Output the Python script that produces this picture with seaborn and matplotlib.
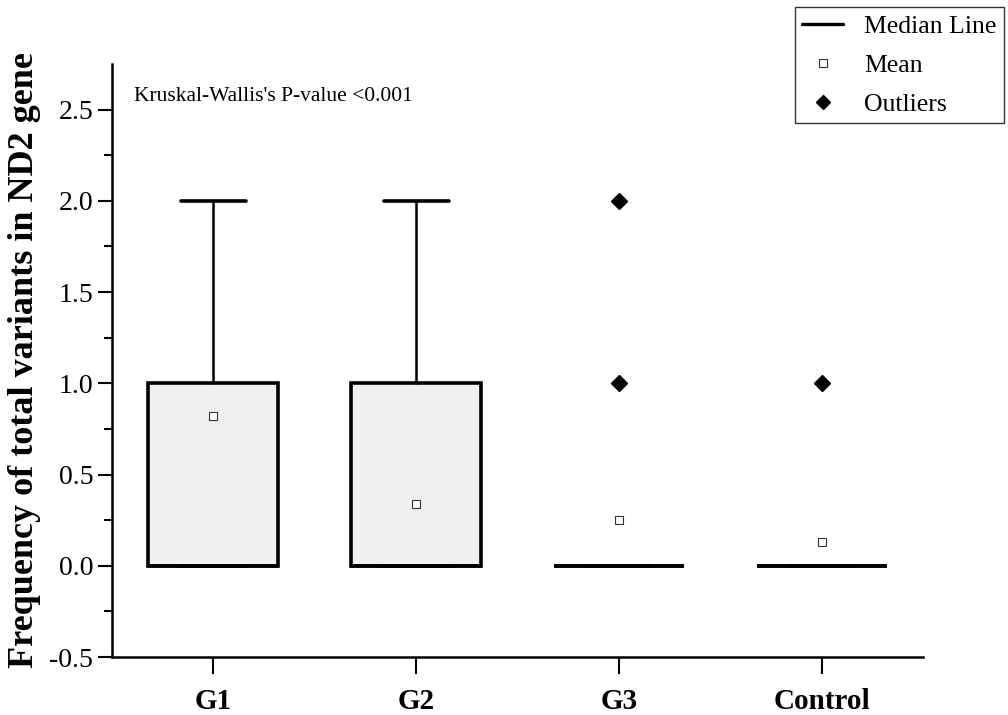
import matplotlib
matplotlib.use("Agg")
import matplotlib.pyplot as plt
from matplotlib.lines import Line2D
import seaborn as sns

# Summary statistics
groups = ["G1", "G2", "G3", "Control"]
q1 = [0.0, 0.0, 0.0, 0.0]
median = [0.0, 0.0, 0.0, 0.0]
q3 = [1.0, 1.0, 0.0, 0.0]
whisker_low = [0.0, 0.0, 0.0, 0.0]
whisker_high = [2.0, 2.0, 0.0, 0.0]
means = [0.82, 0.34, 0.25, 0.13]
outliers = [[], [], [1.0, 2.0], [1.0]]
y_ticks = [-0.5, 0.0, 0.5, 1.0, 1.5, 2.0, 2.5]
y_tick_labels = ["-0.5", "0.0", "0.5", "1.0", "1.5", "2.0", "2.5"]

sns.set_style("ticks")
plt.rcParams["font.family"] = ["Liberation Serif", "DejaVu Serif"]
for key in ["text.color", "axes.labelcolor", "xtick.color", "ytick.color", "axes.edgecolor"]:
    plt.rcParams[key] = "black"

fig = plt.figure(figsize=(10.08, 7.15), dpi=100)
ax = fig.add_axes([0.111, 0.081, 0.805, 0.8295])

stats = []
for i, g in enumerate(groups):
    stats.append({
        "label": g, "q1": q1[i], "med": median[i], "q3": q3[i],
        "whislo": whisker_low[i], "whishi": whisker_high[i],
        "mean": means[i], "fliers": outliers[i],
    })

ax.bxp(
    stats, positions=range(len(groups)), widths=0.64, patch_artist=True,
    showmeans=True, showfliers=True,
    boxprops=dict(facecolor="#f0f0f0", edgecolor="black", linewidth=2.6),
    medianprops=dict(color="black", linewidth=2.6),
    whiskerprops=dict(color="black", linewidth=1.8),
    capprops=dict(color="black", linewidth=2.6),
    capwidths=0.32,
    meanprops=dict(marker="s", markersize=6, markerfacecolor="white",
                   markeredgecolor="#333333", markeredgewidth=0.8, linestyle="none"),
    flierprops=dict(marker="D", markersize=8, markerfacecolor="black",
                    markeredgecolor="black", linestyle="none"),
)

ax.set_xlim(-0.5, 3.5)
ax.set_ylim(-0.5, 2.75)
ax.set_yticks(y_ticks)
ax.set_yticklabels(y_tick_labels)
ax.set_yticks([-0.25, 0.25, 0.75, 1.25, 1.75, 2.25], minor=True)
ax.set_xticks(range(len(groups)))
ax.set_xticklabels(groups, fontweight="bold", fontsize=21)
ax.tick_params(axis="y", which="major", labelsize=20, length=10, width=1.5, direction="out")
ax.tick_params(axis="y", which="minor", length=6, width=1.5, direction="out")
ax.tick_params(axis="x", which="major", length=12, width=1.5, direction="out", pad=10)

for side in ["top", "right"]:
    ax.spines[side].set_visible(False)
for side in ["left", "bottom"]:
    ax.spines[side].set_linewidth(1.8)

ax.set_ylabel("Frequency of total variants in ND2 gene", fontsize=26,
              fontweight="bold", labelpad=6)

ax.text(0.027, 0.945, "Kruskal-Wallis's P-value <0.001", transform=ax.transAxes,
        fontsize=15.5, va="center", ha="left")

handles = [
    Line2D([], [], color="black", linewidth=2.4),
    Line2D([], [], marker="s", markersize=6, markerfacecolor="white",
           markeredgecolor="#333333", markeredgewidth=0.8, linestyle="none"),
    Line2D([], [], marker="D", markersize=7, markerfacecolor="black",
           markeredgecolor="black", linestyle="none"),
]
leg = fig.legend(handles, ["Median Line", "Mean", "Outliers"],
                 loc="upper right", bbox_to_anchor=(0.996, 0.99),
                 fontsize=18.5, frameon=True, fancybox=False, edgecolor="black",
                 handlelength=1.6, handletextpad=0.8, labelspacing=0.62,
                 borderpad=0.3, borderaxespad=0)
leg.get_frame().set_linewidth(1.0)

fig.savefig("out.png", dpi=100)
plt.close(fig)
